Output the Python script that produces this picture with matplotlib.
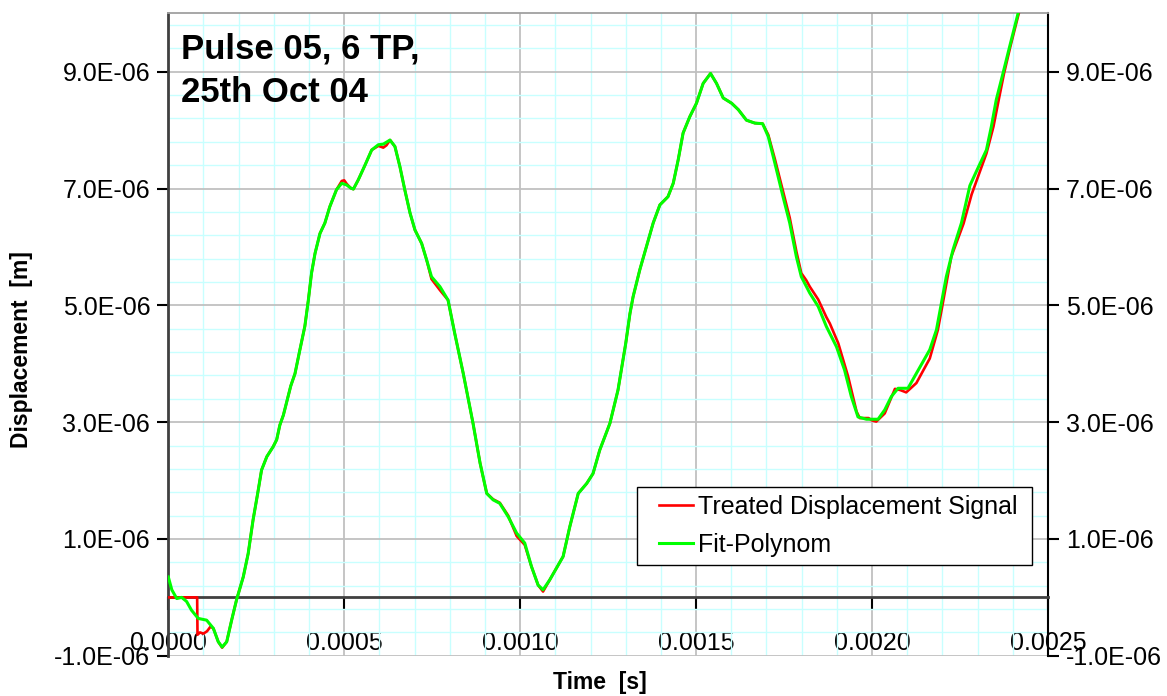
import matplotlib
matplotlib.use('Agg')
import matplotlib.pyplot as plt
import numpy as np
from matplotlib.ticker import FixedLocator, MultipleLocator, FuncFormatter
from matplotlib.path import Path

plt.rcParams['font.family'] = ['Liberation Sans', 'DejaVu Sans']

# ---- data (time in microseconds, displacement in micrometres) ----
t_fit_us = [0, 10, 24, 38, 52, 66, 85, 109, 128, 142, 153, 166, 180, 194, 213, 227,
            241, 254, 265, 280, 298, 308, 317, 327, 338, 348, 360, 374, 388, 398, 407,
            417, 431, 445, 459, 478, 493, 507, 518, 526, 540, 559, 578, 597, 611, 630,
            644, 658, 672, 687, 701, 720, 734, 748, 772, 795, 814, 838, 866, 886, 905,
            923, 942, 966, 990, 1013, 1032, 1051, 1065, 1084, 1103, 1122, 1141, 1165,
            1189, 1207, 1226, 1255, 1278, 1300, 1312, 1321, 1340, 1359, 1378, 1397,
            1420, 1435, 1449, 1463, 1482, 1501, 1520, 1541, 1558, 1577, 1601, 1620,
            1643, 1667, 1689, 1705, 1724, 1747, 1766, 1785, 1799, 1823, 1847, 1870,
            1899, 1922, 1941, 1960, 1984, 2017, 2036, 2055, 2074, 2102, 2131, 2164,
            2183, 2197, 2211, 2230, 2254, 2278, 2297, 2325, 2339, 2353, 2372, 2391,
            2415, 2425]
v_fit_um = [0.35, 0.13, -0.02, 0.00, -0.07, -0.22, -0.36, -0.39, -0.53, -0.76, -0.85,
            -0.76, -0.39, -0.04, 0.35, 0.75, 1.33, 1.78, 2.18, 2.41, 2.58, 2.70, 2.95,
            3.12, 3.38, 3.62, 3.83, 4.24, 4.64, 5.09, 5.55, 5.89, 6.23, 6.41, 6.69,
            6.98, 7.09, 7.06, 7.01, 6.99, 7.15, 7.40, 7.66, 7.75, 7.76, 7.83, 7.72,
            7.38, 6.98, 6.58, 6.29, 6.06, 5.78, 5.49, 5.32, 5.09, 4.52, 3.84, 2.98,
            2.30, 1.78, 1.67, 1.61, 1.38, 1.10, 0.93, 0.53, 0.21, 0.13, 0.30, 0.50,
            0.70, 1.21, 1.78, 1.95, 2.12, 2.52, 2.98, 3.55, 4.35, 4.86, 5.15, 5.61,
            6.01, 6.41, 6.72, 6.86, 7.09, 7.49, 7.95, 8.23, 8.46, 8.80, 8.97, 8.80,
            8.55, 8.46, 8.35, 8.17, 8.12, 8.11, 7.89, 7.43, 6.86, 6.41, 5.83, 5.49,
            5.21, 4.98, 4.64, 4.29, 3.89, 3.44, 3.09, 3.05, 3.05, 3.21, 3.44, 3.58,
            3.58, 3.89, 4.24, 4.58, 5.04, 5.49, 5.95, 6.41, 7.05, 7.30, 7.66, 8.06,
            8.52, 8.97, 9.43, 10.0, 10.2]

t_sig_us = [0, 82, 83, 90, 100, 110, 120, 128, 142, 153, 166, 180, 194, 213, 227,
            241, 254, 265, 280, 298, 308, 317, 327, 338, 348, 360, 374, 388, 398, 407,
            417, 431, 445, 459, 478, 493, 500, 507, 518, 526, 540, 559, 578, 597, 611,
            620, 630, 644, 658, 672, 687, 701, 720, 734, 748, 772, 795, 814, 838, 866,
            886, 905, 923, 942, 966, 990, 1013, 1032, 1051, 1065, 1084, 1103, 1122,
            1141, 1165, 1189, 1207, 1226, 1255, 1278, 1300, 1312, 1321, 1340, 1359,
            1378, 1397, 1420, 1435, 1449, 1463, 1482, 1501, 1520, 1541, 1558, 1577,
            1601, 1620, 1643, 1667, 1689, 1705, 1724, 1747, 1766, 1785, 1799, 1813,
            1823, 1847, 1870, 1880, 1904, 1932, 1956, 1965, 1990, 2000, 2012, 2036,
            2065, 2080, 2097, 2126, 2164, 2187, 2200, 2225, 2260, 2283, 2325, 2345,
            2360, 2375, 2393, 2417, 2427]
v_sig_um = [0.00, 0.00, -0.64, -0.60, -0.62, -0.58, -0.50, -0.53, -0.76, -0.86, -0.76,
            -0.39, -0.04, 0.35, 0.75, 1.33, 1.78, 2.18, 2.41, 2.58, 2.70, 2.95, 3.12,
            3.38, 3.62, 3.83, 4.24, 4.64, 5.09, 5.55, 5.89, 6.23, 6.41, 6.69, 6.98,
            7.13, 7.14, 7.08, 7.01, 6.99, 7.15, 7.40, 7.66, 7.73, 7.70, 7.74, 7.83,
            7.72, 7.38, 6.98, 6.58, 6.29, 6.06, 5.78, 5.45, 5.26, 5.09, 4.52, 3.84,
            2.98, 2.30, 1.78, 1.68, 1.62, 1.40, 1.05, 0.90, 0.53, 0.21, 0.10, 0.30,
            0.50, 0.70, 1.21, 1.78, 1.95, 2.12, 2.52, 2.98, 3.55, 4.35, 4.86, 5.15,
            5.61, 6.01, 6.41, 6.72, 6.86, 7.09, 7.49, 7.95, 8.23, 8.46, 8.80, 8.97,
            8.80, 8.55, 8.46, 8.35, 8.17, 8.12, 8.11, 7.92, 7.50, 6.95, 6.50, 5.92,
            5.55, 5.43, 5.32, 5.10, 4.80, 4.69, 4.35, 3.78, 3.18, 3.07, 3.07, 3.03,
            3.01, 3.15, 3.57, 3.55, 3.51, 3.67, 4.09, 4.58, 5.00, 5.83, 6.40, 6.90,
            7.60, 8.06, 8.52, 8.97, 9.43, 10.0, 10.2]

x_ticks = [0.0, 0.0005, 0.0010, 0.0015, 0.0020, 0.0025]
y_ticks = [-1e-6, 1e-6, 3e-6, 5e-6, 7e-6, 9e-6]
title_lines = ["Pulse 05, 6 TP,", "25th Oct 04"]
series_labels = ["Treated Displacement Signal", "Fit-Polynom"]

# ---- figure ----
W, H = 1167, 696
fig = plt.figure(figsize=(W / 100, H / 100), dpi=100)
L, R, T, B = 168.3, 1048.0, 13.3, 655.8
ax = fig.add_axes([L / W, 1 - B / H, (R - L) / W, (B - T) / H])

ax.plot(np.array(t_sig_us) * 1e-6, np.array(v_sig_um) * 1e-6, color='#ff0000',
        lw=1.9, label=series_labels[0], zorder=3)
ax.plot(np.array(t_fit_us) * 1e-6, np.array(v_fit_um) * 1e-6, color='#00ff00',
        lw=2.2, label=series_labels[1], zorder=4)

ax.set_xlim(0, 0.0025)
ax.set_ylim(-1e-6, 1e-5)
ax.xaxis.set_major_locator(FixedLocator(x_ticks))
ax.xaxis.set_minor_locator(MultipleLocator(0.0001))
ax.yaxis.set_major_locator(FixedLocator(y_ticks))
ax.yaxis.set_minor_locator(MultipleLocator(0.4e-6, offset=0.2e-6))
ax.xaxis.set_major_formatter(FuncFormatter(lambda v, p: f"{v:.4f}"))
ax.yaxis.set_major_formatter(FuncFormatter(lambda v, p: f"{v:.1E}"))

ax.set_axisbelow(True)
ax.grid(which='minor', color='#c8ffff', lw=1.0)
ax.grid(which='major', color='#c0c0c0', lw=1.3)

ax.tick_params(axis='y', which='major', direction='out', length=8, width=1.5,
               left=True, right=True, labelleft=True, labelright=True,
               labelsize=18, pad=5, colors='black')
ax.tick_params(axis='x', which='major', direction='out', length=9, width=1.5,
               labelsize=18, pad=15, colors='black')
ax.tick_params(which='minor', length=0)

ax.spines['bottom'].set_position(('data', 0))
ax.spines['bottom'].set_color('#404040')
ax.spines['bottom'].set_linewidth(2)
ax.spines['left'].set_color('#404040')
ax.spines['left'].set_linewidth(2)
ax.spines['right'].set_color('black')
ax.spines['right'].set_linewidth(1.5)
ax.spines['top'].set_color('#a0a0a0')
ax.spines['top'].set_linewidth(1.3)

# title block
ax.text((181 - L) / (R - L), (B - 59) / (B - T), title_lines[0], transform=ax.transAxes,
        fontsize=25, fontweight='bold', va='baseline', ha='left', zorder=6)
ax.text((181 - L) / (R - L), (B - 102) / (B - T), title_lines[1], transform=ax.transAxes,
        fontsize=25, fontweight='bold', va='baseline', ha='left', zorder=6)

# axis labels
fig.text(600 / W, 1 - 682 / H, "Time  [s]", fontsize=16.5, fontweight='bold',
         ha='center', va='center')
fig.text(22 / W, 1 - 350 / H, "Displacement  [m]", fontsize=16.5, fontweight='bold',
         ha='center', va='center', rotation=90)

# legend (frame widened horizontally a little, like the original)
HPAD = 6.5
leg = ax.legend(loc='lower right',
                bbox_to_anchor=((1032 - HPAD - L) / (R - L), (B - 565) / (B - T)),
                borderaxespad=0, fontsize=18, numpoints=2, handlelength=1.96,
                handletextpad=-0.1, borderpad=0.33, labelspacing=0.55,
                frameon=True, fancybox=False, edgecolor='black', framealpha=1)


def wide_square(x0, y0, width, height, mutation_size):
    x0 -= HPAD
    x1 = x0 + width + 2 * HPAD
    y1 = y0 + height
    return Path([(x0, y0), (x1, y0), (x1, y1), (x0, y1), (x0, y0)], closed=True)


leg.get_frame().set_boxstyle(wide_square)
leg.get_frame().set_linewidth(1.0)
leg.set_zorder(7)

fig.savefig('out.png', dpi=100)
